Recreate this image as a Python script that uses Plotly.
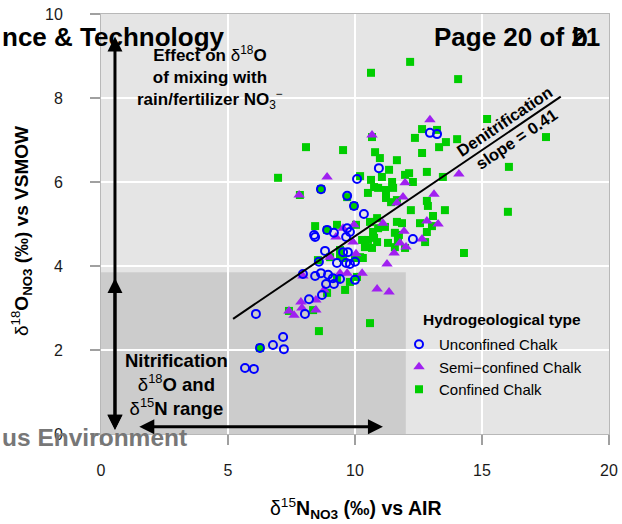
import plotly.graph_objects as go

# ---------------- data ----------------
# Unconfined Chalk (blue open circles)
unc_x = [5.67, 6.02, 6.26, 6.77, 7.20, 7.17, 6.10, 8.03, 8.19, 8.70,
         7.95, 8.43, 8.66, 8.94, 9.13, 9.41, 8.86, 9.17, 10.0, 8.58,
         9.29, 9.65, 9.80, 10.0, 8.82, 9.53, 9.72, 8.39, 8.43, 8.90,
         9.17, 9.69, 9.80, 9.65, 10.35, 9.96, 9.69, 8.66, 10.08, 10.94,
         12.95, 13.23, 12.28]
unc_y = [1.57, 1.55, 2.05, 2.12, 2.02, 2.31, 2.86, 2.86, 3.21, 3.31,
         3.81, 3.76, 3.83, 3.79, 3.71, 3.69, 3.57, 3.57, 3.67, 4.10,
         4.07, 4.07, 4.05, 4.10, 4.36, 4.33, 4.33, 4.74, 4.69, 4.86,
         4.79, 4.90, 4.81, 4.69, 5.24, 5.43, 5.67, 5.83, 6.07, 6.33,
         7.17, 7.14, 4.64]

# Semi-confined Chalk (purple triangles)
semi_x = [10.67, 12.95, 8.90, 7.80, 14.09, 11.97, 13.11, 11.89, 11.65, 11.10,
          12.83, 13.27, 11.93, 12.64, 11.77, 12.01, 11.54, 11.26, 10.87, 11.34,
          9.96, 9.53, 9.25, 9.92, 10.04, 9.02, 10.28, 9.41, 9.69, 7.95,
          8.78, 7.87, 8.46, 7.40, 7.91, 8.46, 7.60]
semi_y = [7.12, 7.48, 6.12, 5.69, 6.19, 5.98, 5.71, 5.64, 5.50, 5.02,
          5.07, 5.00, 4.83, 4.64, 4.55, 4.45, 4.31, 4.05, 3.45, 3.38,
          4.98, 4.90, 4.69, 4.57, 4.29, 4.21, 3.83, 3.83, 3.83, 3.76,
          3.43, 3.14, 3.19, 2.93, 3.00, 2.95, 2.83]

# Confined Chalk (green squares)
conf_x = [10.63, 12.17, 14.06, 15.20, 17.52, 16.06, 16.02, 14.29, 8.07, 6.97,
          9.53, 8.58, 10.59, 9.61, 6.26, 7.40, 8.35, 8.90, 10.08, 9.29,
          9.80, 8.54, 9.02, 9.41, 9.53, 10.00, 10.31, 9.41, 10.20, 8.43,
          9.29, 10.04, 10.59, 10.87, 10.91, 11.18, 10.28, 10.51, 10.75, 10.39,
          10.67, 10.87, 10.71, 11.30, 11.57, 11.69, 11.57, 11.73, 11.97, 12.83,
          12.76, 11.65, 11.85, 12.56, 13.03, 13.07, 12.20, 13.54, 12.83, 12.87,
          11.22, 11.42, 11.65, 10.51, 10.91, 11.22, 11.46, 11.50, 10.75, 10.63,
          10.20, 11.06, 11.34, 11.65, 10.98, 10.79, 11.97, 12.13, 12.28, 12.83,
          13.46, 12.64, 13.31, 13.58, 14.02, 12.36, 12.64, 13.23, 10.67, 7.83,
          8.66, 9.69, 9.96, 8.90]
conf_y = [8.60, 8.86, 8.45, 7.50, 7.07, 6.36, 5.29, 4.31, 6.83, 6.10,
          6.76, 2.45, 2.64, 3.43, 2.05, 2.93, 2.95, 3.36, 3.74, 3.71,
          3.62, 4.14, 4.21, 4.26, 4.19, 4.19, 4.19, 4.38, 4.21, 4.95,
          4.98, 4.98, 5.05, 5.14, 4.90, 4.93, 4.62, 4.62, 4.67, 4.45,
          4.43, 4.57, 4.81, 4.55, 4.45, 4.62, 4.79, 4.74, 4.43, 4.81,
          4.57, 5.05, 5.02, 5.02, 4.95, 5.19, 5.33, 5.33, 5.55, 5.43,
          5.62, 5.52, 5.57, 5.74, 5.86, 5.81, 6.00, 5.86, 5.88, 6.05,
          6.14, 6.12, 6.29, 6.52, 6.57, 6.71, 6.17, 6.21, 6.00, 6.24,
          6.12, 6.69, 6.83, 6.95, 7.02, 7.05, 7.26, 7.24, 7.07, 5.69,
          5.83, 5.64, 5.43, 4.86]

# Denitrification line
denit_slope = 0.41
denit_intercept = 0.61
denit_x = [5.2, 18.1]

# Nitrification range box
nitr_x = [0, 12]
nitr_y = [0, 3.85]

x_ticks = [0, 5, 10, 15, 20]
y_ticks = [0, 2, 4, 6, 8, 10]

# ---------------- figure ----------------
W, H = 622, 524
ML, MR, MT, MB = 101, 13, 14, 90
PW, PH = W - ML - MR, H - MT - MB


def paper(px, py):
    return (px - ML) / PW, (H - MB - py) / PH


FONT = "Liberation Sans, Arial, sans-serif"
BLUE, PURPLE, GREEN = "#0000FF", "#A020F0", "#00CD00"

fig = go.Figure()
fig.add_trace(go.Scatter(x=conf_x, y=conf_y, mode="markers", name="Confined Chalk",
                         marker=dict(symbol="square", size=8, color=GREEN, line=dict(width=0))))
fig.add_trace(go.Scatter(x=semi_x, y=semi_y, mode="markers", name="Semi\u2212confined Chalk",
                         marker=dict(symbol="triangle-up", size=10, color=PURPLE, line=dict(width=0))))
fig.add_trace(go.Scatter(x=unc_x, y=unc_y, mode="markers", name="Unconfined Chalk",
                         marker=dict(symbol="circle-open", size=8, color=BLUE, line=dict(width=2, color=BLUE))))
fig.add_trace(go.Scatter(x=denit_x, y=[denit_intercept + denit_slope * v for v in denit_x],
                         mode="lines", line=dict(color="black", width=2), showlegend=False,
                         hoverinfo="skip"))

fig.add_shape(type="rect", xref="x", yref="y", x0=nitr_x[0], x1=nitr_x[1], y0=nitr_y[0], y1=nitr_y[1],
              fillcolor="#cccccc", line=dict(width=0), layer="below")

ann = []
# arrows
arrow_style = dict(xref="x", yref="y", axref="x", ayref="y", text="", showarrow=True,
                   arrowhead=2, arrowsize=1, arrowwidth=3, arrowcolor="black",
                   arrowside="end+start", standoff=0, startstandoff=0)
ann.append(dict(x=0.55, y=0.1, ax=0.55, ay=9.5, **arrow_style))
ann.append(dict(x=0.55, y=0.1, ax=0.55, ay=3.75, **arrow_style))
ann.append(dict(x=11.1, y=0.17, ax=1.45, ay=0.17, **arrow_style))

# in-plot texts
ann.append(dict(x=4.29, y=8.48, xref="x", yref="y", showarrow=False, align="center",
                text="<b>Effect on </b>\u03b4<sup>18</sup><b>O</b><br><b>of mixing with</b><br>"
                     "<b>rain/fertilizer NO</b><sub>3</sub><sup>\u2212</sup>",
                font=dict(family=FONT, size=17, color="black")))
ann.append(dict(x=2.99, y=1.17, xref="x", yref="y", showarrow=False, align="center",
                text="<b>Nitrification</b><br>\u03b4<sup>18</sup><b>O and</b><br>"
                     "\u03b4<sup>15</sup><b>N range</b>",
                font=dict(family=FONT, size=18.5, color="black")))
ann.append(dict(x=16.14, y=7.24, xref="x", yref="y", showarrow=False, align="center",
                textangle=-34, text="<b>Denitrification<br>slope = 0.41</b>",
                font=dict(family=FONT, size=16.5, color="black")))

# legend title
px_, py_ = paper(421, 319)
ann.append(dict(x=px_, y=py_, xref="paper", yref="paper", showarrow=False,
                xanchor="left", yanchor="middle", text="<b>Hydrogeological type</b>",
                font=dict(family=FONT, size=15.5, color="black")))

# axis titles
px_, py_ = paper(356, 508)
ann.append(dict(x=px_, y=py_, xref="paper", yref="paper", showarrow=False,
                xanchor="center", yanchor="middle",
                text="\u03b4<sup>15</sup><b>N<sub>NO3</sub> (\u2030) vs AIR</b>",
                font=dict(family=FONT, size=19.5, color="black")))
px_, py_ = paper(22, 231)
ann.append(dict(x=px_, y=py_, xref="paper", yref="paper", showarrow=False,
                xanchor="center", yanchor="middle", textangle=-90,
                text="\u03b4<sup>18</sup><b>O<sub>NO3</sub> (\u2030) vs VSMOW</b>",
                font=dict(family=FONT, size=19, color="black")))

# page overlay texts
px_, py_ = paper(0, 37)
ann.append(dict(x=px_, y=py_, xref="paper", yref="paper", showarrow=False,
                xanchor="left", yanchor="middle", text="<b>nce &amp; Technology</b>",
                font=dict(family=FONT, size=26, color="black")))
px_, py_ = paper(602, 37)
ann.append(dict(x=px_, y=py_, xref="paper", yref="paper", showarrow=False,
                xanchor="right", yanchor="middle", text="<b>Page 20 of 21</b>",
                font=dict(family=FONT, size=26, color="black")))
px_, py_ = paper(580, 37)
ann.append(dict(x=px_, y=py_, xref="paper", yref="paper", showarrow=False,
                xanchor="center", yanchor="middle", text="<b>b</b>",
                font=dict(family=FONT, size=26, color="black")))
px_, py_ = paper(0, 437)
ann.append(dict(x=px_, y=py_, xref="paper", yref="paper", showarrow=False,
                xanchor="left", yanchor="middle", text="<b>us Environment</b>",
                font=dict(family=FONT, size=24.5, color="#777777")))

lx, ly = paper(399, 328)

axis_common = dict(showgrid=True, gridcolor="white", gridwidth=1.5, zeroline=False,
                   showline=True, mirror=True, linecolor="#b8b8b8", linewidth=1,
                   ticks="outside", ticklen=10, tickwidth=1.5, tickcolor="#a0a0a0",
                   tickfont=dict(family=FONT, size=16, color="#1a1a1a"), automargin=False)

fig.update_layout(
    width=W, height=H, template="none",
    margin=dict(l=ML, r=MR, t=MT, b=MB, autoexpand=False),
    paper_bgcolor="white", plot_bgcolor="#e5e5e5",
    xaxis=dict(range=[0, 20], tickvals=x_ticks, ticklabelstandoff=12, **axis_common),
    yaxis=dict(range=[0, 10], tickvals=y_ticks, ticklabelstandoff=24, **axis_common),
    showlegend=True,
    legend=dict(x=lx, y=ly, xanchor="left", yanchor="top", bgcolor="rgba(0,0,0,0)",
                traceorder="reversed", tracegroupgap=0,
                font=dict(family=FONT, size=15, color="black")),
    annotations=ann,
    font=dict(family=FONT),
)

fig.write_html("out.html")
